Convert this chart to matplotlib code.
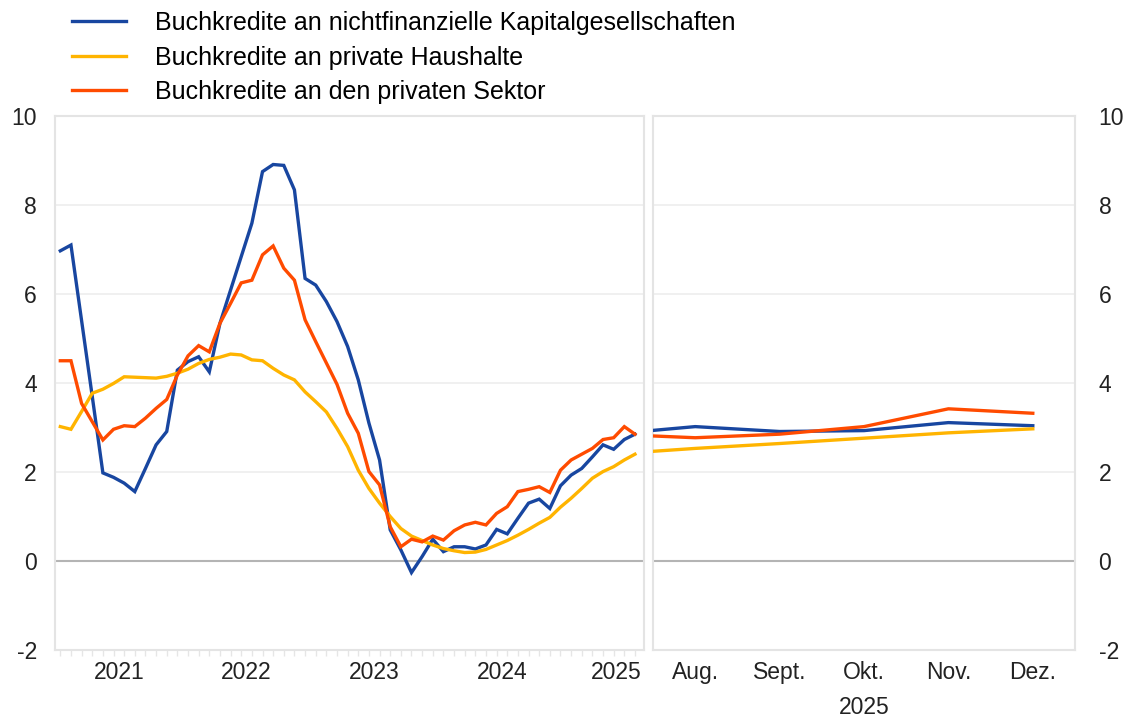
import numpy as np
import matplotlib
matplotlib.use("Agg")
import matplotlib.pyplot as plt
from matplotlib.lines import Line2D

plt.rcParams['font.family'] = ['Liberation Sans', 'DejaVu Sans']

# ---- data ----
series_labels = [
    "Buchkredite an nichtfinanzielle Kapitalgesellschaften",
    "Buchkredite an private Haushalte",
    "Buchkredite an den privaten Sektor",
]
# monthly, Jan 2021 - Jul 2025
nfc = [6.97, 7.10, 5.40, 3.70, 1.98, 1.88, 1.75, 1.56, 2.08, 2.61, 2.91, 4.29,
       4.48, 4.59, 4.25, 5.34, 6.09, 6.84, 7.59, 8.75, 8.91, 8.89, 8.34, 6.35,
       6.20, 5.83, 5.38, 4.82, 4.07, 3.10, 2.27, 0.70, 0.25, -0.26, 0.10, 0.49,
       0.21, 0.32, 0.32, 0.27, 0.36, 0.71, 0.61, 0.96, 1.30, 1.39, 1.18, 1.69,
       1.93, 2.08, 2.34, 2.61, 2.51, 2.73, 2.85]
hh = [3.02, 2.96, 3.36, 3.77, 3.86, 3.99, 4.14, 4.13, 4.12, 4.11, 4.15, 4.22,
      4.31, 4.44, 4.53, 4.58, 4.65, 4.63, 4.52, 4.50, 4.33, 4.18, 4.07, 3.80,
      3.58, 3.35, 2.98, 2.57, 2.04, 1.63, 1.30, 1.00, 0.73, 0.56, 0.46, 0.36,
      0.28, 0.23, 0.19, 0.20, 0.26, 0.36, 0.46, 0.58, 0.71, 0.85, 0.98, 1.21,
      1.41, 1.63, 1.86, 2.01, 2.12, 2.27, 2.40]
priv = [4.50, 4.50, 3.54, 3.13, 2.72, 2.96, 3.04, 3.02, 3.21, 3.43, 3.63, 4.18,
        4.61, 4.84, 4.70, 5.34, 5.79, 6.25, 6.31, 6.88, 7.08, 6.58, 6.31, 5.42,
        4.93, 4.45, 3.97, 3.32, 2.87, 2.01, 1.71, 0.77, 0.32, 0.49, 0.43, 0.56,
        0.47, 0.68, 0.81, 0.87, 0.81, 1.07, 1.22, 1.56, 1.61, 1.67, 1.54, 2.04,
        2.27, 2.40, 2.53, 2.73, 2.77, 3.02, 2.85]
year_labels = ["2021", "2022", "2023", "2024", "2025"]

# recent months, Aug - Dez 2025
recent_labels = ["Aug.", "Sept.", "Okt.", "Nov.", "Dez."]
nfc_recent = [3.02, 2.91, 2.93, 3.11, 3.04]
hh_recent = [2.53, 2.64, 2.76, 2.88, 2.97]
priv_recent = [2.77, 2.85, 3.02, 3.42, 3.32]
recent_year = "2025"

colors = ["#1846a0", "#ffb400", "#ff4b00"]
lw = 2.4

W, H = 1133, 717
fig = plt.figure(figsize=(W / 100, H / 100), dpi=100)

def fx(px):
    return px / W

def fy(py):
    return 1 - py / H

axL = fig.add_axes([fx(55), fy(650), fx(644) - fx(55), fy(116) - fy(650)])
axR = fig.add_axes([fx(653), fy(650), fx(1075) - fx(653), fy(116) - fy(650)])

frame_col = "#e4e4e4"
grid_col = "#efefef"
tick_fs = 16.5

for ax in (axL, axR):
    ax.set_ylim(-2, 10)
    ax.set_yticks(np.arange(-2, 11, 2))
    for y in (2, 4, 6, 8):
        ax.axhline(y, color=grid_col, lw=1.3, zorder=0)
    ax.axhline(0, color="#b4b4b4", lw=1.5, zorder=1)
    for s in ax.spines.values():
        s.set_color(frame_col)
        s.set_linewidth(1.5)
    ax.tick_params(axis="both", length=0, labelsize=tick_fs, colors="#222222")

# left panel
x = np.arange(len(nfc))
for vals, c in zip([nfc, hh, priv], colors):
    axL.plot(x, vals, color=c, lw=lw, zorder=3, solid_joinstyle="miter")
axL.set_xlim(-0.5, 54.85)
axL.set_xticks([5.5, 17.5, 29.5, 41.5, 52.2])
axL.set_xticklabels(year_labels)
axL.tick_params(axis="x", pad=8)
axL.set_xticks(np.arange(0, 55, 1), minor=True)
axL.tick_params(axis="x", which="minor", length=4, color="#e6e6e6", width=1)
axL.set_yticklabels([str(v) for v in range(-2, 11, 2)])
axL.tick_params(axis="y", pad=13)

# right panel (includes July value from left panel at the left edge)
xr = np.arange(-1, len(recent_labels))
for vals, rec, c in zip([nfc, hh, priv], [nfc_recent, hh_recent, priv_recent], colors):
    axR.plot(xr, [vals[-1]] + rec, color=c, lw=lw, zorder=3)
axR.set_xlim(-0.5, 4.5)
axR.set_xticks(np.arange(len(recent_labels)))
axR.set_xticklabels(recent_labels)
axR.tick_params(axis="x", pad=8)
axR.yaxis.tick_right()
axR.set_yticklabels([str(v) for v in range(-2, 11, 2)])
axR.tick_params(axis="y", pad=17)
axR.text(2, -57 / 534, recent_year, transform=axR.get_xaxis_transform(),
         ha="center", va="center", fontsize=tick_fs, color="#222222")

# legend
handles = [Line2D([], [], color=c, lw=lw) for c in colors]
fig.legend(handles, series_labels, loc="upper left",
           bbox_to_anchor=(fx(72), fy(11)), frameon=False, fontsize=18,
           handlelength=2.16, handletextpad=1.16, labelspacing=0.42,
           borderpad=0, borderaxespad=0)

fig.savefig("out.png", dpi=100)
